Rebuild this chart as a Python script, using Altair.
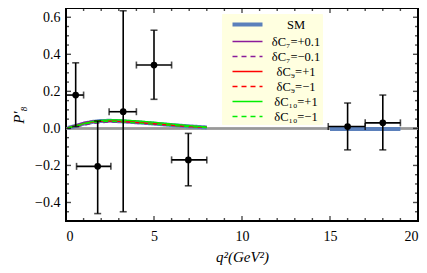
import altair as alt
import pandas as pd

# ---- experimental data ----
exp_x = [0.55, 1.8, 3.25, 5.0, 6.95, 16.0, 18.0]
exp_xlo = [0.0, 0.6, 2.45, 4.0, 6.0, 14.9, 17.0]
exp_xhi = [1.0, 2.55, 4.0, 6.0, 8.0, 17.0, 19.0]
exp_y = [0.18, -0.205, 0.09, 0.342, -0.17, 0.01, 0.03]
exp_ylo = [0.01, -0.46, -0.45, 0.157, -0.31, -0.116, -0.116]
exp_yhi = [0.354, 0.04, 0.635, 0.53, -0.027, 0.137, 0.18]

# ---- theory curves ----
q2_low = [0.1, 0.5, 1.0, 1.5, 2.0, 2.5, 3.0, 4.0, 5.0, 6.0, 7.0, 8.0]
sm_low = [0.003, 0.012, 0.025, 0.035, 0.040, 0.041, 0.039, 0.033, 0.026, 0.018, 0.011, 0.005]
c7p = [0.004, 0.016, 0.032, 0.040, 0.042, 0.040, 0.037, 0.030, 0.023, 0.016, 0.010, 0.005]
c7m = [0.002, 0.008, 0.018, 0.026, 0.031, 0.034, 0.034, 0.031, 0.025, 0.018, 0.011, 0.005]
c9p = [0.003, 0.012, 0.025, 0.034, 0.039, 0.040, 0.038, 0.032, 0.025, 0.017, 0.010, 0.005]
c9m = [0.003, 0.012, 0.026, 0.036, 0.041, 0.042, 0.040, 0.034, 0.027, 0.019, 0.012, 0.006]
c10p = [0.003, 0.012, 0.026, 0.037, 0.043, 0.046, 0.046, 0.041, 0.033, 0.024, 0.015, 0.007]
c10m = [0.003, 0.011, 0.023, 0.032, 0.037, 0.038, 0.036, 0.030, 0.023, 0.016, 0.009, 0.004]
q2_high = [15.0, 16.0, 17.0, 18.0, 19.0]
sm_high = [-0.003, -0.003, -0.003, -0.003, -0.003]

series_names = ["SM", "δC₇=+0.1", "δC₇=−0.1", "δC₉=+1", "δC₉=−1", "δC₁₀=+1", "δC₁₀=−1"]
series_colors = ["#5B80BB", "#8B1A9B", "#8B1A9B", "#FF0000", "#FF0000", "#00EE00", "#00EE00"]
series_dash = [[1, 0], [1, 0], [5, 4], [1, 0], [5, 4], [1, 0], [5, 4]]
series_width = [4, 1.3, 1.3, 1.3, 1.3, 1.3, 1.3]

x_major = [0, 5, 10, 15, 20]
x_minor = [v for v in range(0, 21) if v % 5 != 0]
y_major = [-0.4, -0.2, 0.0, 0.2, 0.4, 0.6]
y_minor = [round(-0.5 + 0.05 * i, 2) for i in range(0, 24)]
y_minor = [v for v in y_minor if all(abs(v - m) > 1e-6 for m in y_major)]
X_MIN, X_MAX, Y_MIN, Y_MAX = 0, 20, -0.5, 0.65

exp_df = pd.DataFrame({"x": exp_x, "xlo": exp_xlo, "xhi": exp_xhi,
                       "y": exp_y, "ylo": exp_ylo, "yhi": exp_yhi})

rows = []
curves = [sm_low, c7p, c7m, c9p, c9m, c10p, c10m]
for name, vals in zip(series_names, curves):
    for q, v in zip(q2_low, vals):
        rows.append({"q2": q, "val": v, "series": name, "seg": name + "_low"})
for q, v in zip(q2_high, sm_high):
    rows.append({"q2": q, "val": v, "series": "SM", "seg": "SM_high"})
th_df = pd.DataFrame(rows)

xs = alt.Scale(domain=[X_MIN, X_MAX], nice=False, zero=False)
ys = alt.Scale(domain=[Y_MIN, Y_MAX], nice=False, zero=False)
FONT = "Liberation Serif"

def X(field, axis=None):
    return alt.X(field, type="quantitative", scale=xs, axis=axis)

def Y(field, axis=None):
    return alt.Y(field, type="quantitative", scale=ys, axis=axis)

zero_line = alt.Chart(exp_df).mark_rule(color="#999999", strokeWidth=1.5).encode(
    x=alt.value(0), x2=alt.value("width"), y=Y("z:Q")
).transform_calculate(z="0")

lines = alt.Chart(th_df).mark_line().encode(
    x=X("q2"), y=Y("val"),
    color=alt.Color("series:N", scale=alt.Scale(domain=series_names, range=series_colors),
                    legend=alt.Legend(title=None, orient="none", legendX=156, legendY=6,
                                      fillColor="#FFFFE0", padding=1, symbolType="M0,0H4",
                                      symbolSize=225, labelFont=FONT, labelFontSize=12.5,
                                      labelFontWeight="normal", labelColor="black",
                                      rowPadding=0, labelOffset=54, labelAlign="center")),
    strokeDash=alt.StrokeDash("series:N", scale=alt.Scale(domain=series_names, range=series_dash)),
    strokeWidth=alt.StrokeWidth("series:N", scale=alt.Scale(type="ordinal", domain=series_names,
                                                            range=series_width)),
    detail="seg:N", order="q2:Q",
)

vbars = alt.Chart(exp_df).mark_rule(color="black", strokeWidth=1.6).encode(
    x=X("x"), y=Y("ylo"), y2="yhi")
hbars = alt.Chart(exp_df).mark_rule(color="black", strokeWidth=1.6).encode(
    x=X("xlo"), x2="xhi", y=Y("y"))
capy_lo = alt.Chart(exp_df).mark_tick(color="black", orient="horizontal", size=7, thickness=1.6).encode(
    x=X("x"), y=Y("ylo"))
capy_hi = alt.Chart(exp_df).mark_tick(color="black", orient="horizontal", size=7, thickness=1.6).encode(
    x=X("x"), y=Y("yhi"))
capx_lo = alt.Chart(exp_df).mark_tick(color="black", orient="vertical", size=7, thickness=1.6).encode(
    x=X("xlo"), y=Y("y"))
capx_hi = alt.Chart(exp_df).mark_tick(color="black", orient="vertical", size=7, thickness=1.6).encode(
    x=X("xhi"), y=Y("y"))
pts = alt.Chart(exp_df).mark_circle(color="black", opacity=1, size=45).encode(
    x=X("x"), y=Y("y"))

# axis label layer
label_layer = alt.Chart(exp_df).mark_point(opacity=0).encode(
    x=X("x", alt.Axis(values=x_major, orient="bottom", ticks=False, domain=False, grid=False,
                       labelFont=FONT, labelFontSize=14, labelColor="black", labelPadding=8,
                       title="q²(GeV²)", titleFont=FONT, titleFontSize=15, titleFontStyle="italic",
                       titleFontWeight="normal", titleColor="black", titlePadding=6)),
    y=Y("y", alt.Axis(values=y_major, orient="left", ticks=False, domain=False, grid=False,
                       format=".1f", labelFont=FONT, labelFontSize=14, labelColor="black",
                       labelPadding=6, title="P′₈", titleFont=FONT, titleFontSize=15,
                       titleFontStyle="italic", titleFontWeight="normal", titleColor="black",
                       titlePadding=8)),
)

# inward frame ticks (Mathematica style), placed through the scales at the domain edges
def x_ticks(vals, size):
    bottom = alt.Chart(pd.DataFrame({"t": vals, "e": [Y_MIN] * len(vals)})).mark_tick(
        color="black", orient="vertical", size=size, thickness=1.4, yOffset=-size / 2
    ).encode(x=X("t"), y=Y("e"))
    top = alt.Chart(pd.DataFrame({"t": vals, "e": [Y_MAX] * len(vals)})).mark_tick(
        color="black", orient="vertical", size=size, thickness=1.4, yOffset=size / 2
    ).encode(x=X("t"), y=Y("e"))
    return [bottom, top]

def y_ticks(vals, size):
    left = alt.Chart(pd.DataFrame({"t": vals, "e": [X_MIN] * len(vals)})).mark_tick(
        color="black", orient="horizontal", size=size, thickness=1.4, xOffset=size / 2
    ).encode(y=Y("t"), x=X("e"))
    right = alt.Chart(pd.DataFrame({"t": vals, "e": [X_MAX] * len(vals)})).mark_tick(
        color="black", orient="horizontal", size=size, thickness=1.4, xOffset=-size / 2
    ).encode(y=Y("t"), x=X("e"))
    return [left, right]

tick_layers = x_ticks(x_major, 5) + x_ticks(x_minor, 3) + y_ticks(y_major, 5) + y_ticks(y_minor, 3)

chart = alt.layer(zero_line, lines, vbars, hbars, capy_lo, capy_hi, capx_lo, capx_hi, pts,
                  label_layer, *tick_layers).resolve_axis(x="independent", y="independent").properties(
    width=352, height=213,
    autosize=alt.AutoSizeParams(type="none"),
    padding={"left": 58, "top": 0, "right": 1, "bottom": 44},
).configure_view(stroke="black", strokeWidth=2).configure_legend(strokeColor="#FFFFE0")

chart.save("out.html", embed_options={"renderer": "svg", "actions": False})
